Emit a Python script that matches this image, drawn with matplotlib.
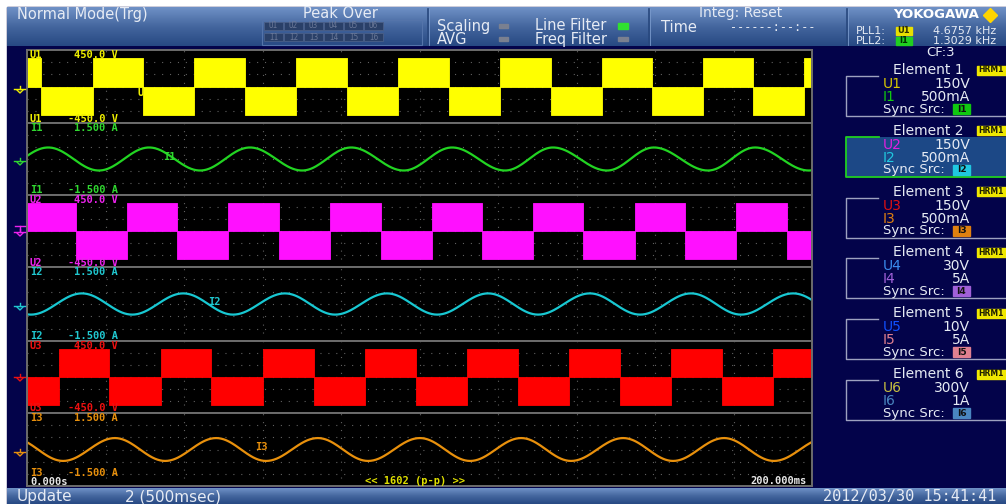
import numpy as np
import matplotlib.pyplot as plt
from matplotlib.patches import Rectangle
from matplotlib.colors import LinearSegmentedColormap

plt.rcParams['lines.scale_dashes'] = False

W, H = 1006, 504

# ---- waveform data (time in ms, window 0..200 ms) ----
t_end = 200.0

# voltage channels: times where the PWM block flips sign
u1_edges = [3.6, 16.8, 29.6, 42.6, 55.5, 68.5, 81.5, 94.5, 107.5, 120.5,
            133.5, 146.5, 159.2, 172.2, 185.0, 198.0]
u2_edges = [12.5, 25.5, 38.2, 51.2, 64.2, 77.2, 90.2, 103.2, 115.9, 128.9,
            141.7, 154.9, 167.6, 180.6, 193.6]
u3_edges = [8.2, 20.9, 34.1, 46.9, 60.1, 73.1, 86.1, 99.1, 112.1, 125.1,
            138.1, 151.1, 164.1, 177.1, 190.1]
u_first_sign = [1, 1, -1]
u_peak = [355, 350, 350]          # V
u_range = 450.0                   # V/half-screen

# current channels: peak / trough times
i1_peaks = [5.4, 31.1, 56.8, 82.6, 108.3, 134.0, 159.7, 185.5, 211.2]
i1_troughs = [-7.6, 18.3, 44.1, 70.1, 96.0, 121.8, 147.8, 173.5, 199.2]
i2_peaks = [-11.8, 14.0, 39.8, 65.7, 91.7, 117.5, 143.4, 169.2, 195.2]
i2_troughs = [1.0, 26.8, 52.5, 78.5, 104.5, 130.2, 156.2, 181.9, 207.9]
i3_peaks = [-3.6, 22.4, 48.2, 74.1, 100.1, 125.9, 151.9, 177.6, 203.6]
i3_troughs = [9.2, 35.2, 60.9, 86.9, 112.9, 138.6, 164.6, 190.3]
i_amp = [0.48, 0.43, 0.47]        # A
i_range = 1.5                     # A/half-screen

names = ['U1', 'I1', 'U2', 'I2', 'U3', 'I3']
wave_cols = ['#ffff00', '#22d422', '#ff10ff', '#18c8d2', '#ff0000', '#e8900c']
label_cols = ['#f0f000', '#30d830', '#ee22ee', '#20c8d0', '#ee1010', '#e8900c']
top_vals = ['450.0 V', '1.500 A', '450.0 V', '1.500 A', '450.0 V', '1.500 A']
bot_vals = ['-450.0 V', '-1.500 A', '-450.0 V', '-1.500 A', '-450.0 V', '-1.500 A']

elements = ['Element 1', 'Element 2', 'Element 3', 'Element 4', 'Element 5', 'Element 6']
el_u = ['U1', 'U2', 'U3', 'U4', 'U5', 'U6']
el_i = ['I1', 'I2', 'I3', 'I4', 'I5', 'I6']
el_u_rng = ['150V', '150V', '150V', '30V', '10V', '300V']
el_i_rng = ['500mA', '500mA', '500mA', '5A', '5A', '1A']
el_u_col = ['#d8c800', '#e020e0', '#e01010', '#3a8cf0', '#1050ff', '#c8c040']
el_i_col = ['#10c810', '#20c8e0', '#e08010', '#a060d8', '#e08090', '#4a86c0']


def blocks(edges, first, peak):
    bounds = [0.0] + list(edges) + [t_end]
    levels = [first * peak * (-1) ** k for k in range(len(bounds) - 1)]
    return np.array(bounds), np.array(levels + [levels[-1]])


def swing(peaks, troughs, amp):
    ext = sorted([(t, amp) for t in peaks] + [(t, -amp) for t in troughs])
    ts, vs = [], []
    for (t0, v0), (t1, v1) in zip(ext[:-1], ext[1:]):
        tt = np.linspace(t0, t1, 40)
        ts.append(tt)
        vs.append(v0 * np.cos(np.pi * (tt - t0) / (t1 - t0)))
    return np.concatenate(ts), np.concatenate(vs)


fig = plt.figure(figsize=(W / 100, H / 100), dpi=100)
bg = fig.add_axes([0, 0, 1, 1])
bg.axis('off')

navy = '#03034a'
bg.add_patch(Rectangle((0, 0), W, H, color='white', zorder=0))
bg.add_patch(Rectangle((7, 7), W - 7, H - 7, color=navy, zorder=0))
grad = np.linspace(0, 1, 64).reshape(-1, 1)
bar_cmap = LinearSegmentedColormap.from_list('bar', ['#6f91c6', '#44669e', '#274983'])
bg.imshow(grad, extent=(7, W, 46, 7), cmap=bar_cmap, aspect='auto', zorder=1)
bg.imshow(grad, extent=(7, W, 504, 488), cmap=bar_cmap, aspect='auto', zorder=1)

# header separators
for xs in [428, 649, 847]:
    bg.plot([xs, xs], [9, 45], color='#28487e', lw=1.2, zorder=2)
    bg.plot([xs + 1.5, xs + 1.5], [9, 45], color='#7a9acc', lw=0.6, zorder=2)

txt = '#e6ebf4'
hf = 10.5
bg.text(17, 14, 'Normal Mode(Trg)', color=txt, fontsize=hf, va='center', zorder=3)
bg.text(340, 13, 'Peak Over', color=txt, fontsize=hf, va='center', ha='center', zorder=3)
bg.add_patch(Rectangle((262, 20), 160, 25, fill=False, ec='#5474aa', lw=0.8, zorder=2))
for k in range(6):
    for row, pre in [(22, 'U'), (33, 'I')]:
        bg.add_patch(Rectangle((264 + 20 * k, row), 19, 8, fc='#2a4068', ec='#4a5f88',
                               lw=0.6, zorder=2))
        bg.text(273.5 + 20 * k, row + 4, f'{pre}{k + 1}', color='#6a7898', fontsize=5.5,
                ha='center', va='center', family='DejaVu Sans Mono', zorder=3)
bg.text(437, 26, 'Scaling', color=txt, fontsize=hf, va='center', zorder=3)
bg.text(437, 39.5, 'AVG', color=txt, fontsize=hf, va='center', zorder=3)
bg.add_patch(Rectangle((499, 24), 9, 4, color='#7a8090', zorder=3))
bg.add_patch(Rectangle((499, 37), 9, 4, color='#7a8090', zorder=3))
bg.text(535, 26, 'Line Filter', color=txt, fontsize=hf, va='center', zorder=3)
bg.text(535, 39.5, 'Freq Filter', color=txt, fontsize=hf, va='center', zorder=3)
bg.add_patch(Rectangle((618, 23), 10, 6, color='#30e030', zorder=3))
bg.add_patch(Rectangle((618, 37), 10, 4, color='#7a8090', zorder=3))
bg.text(699, 12.5, 'Integ: Reset', color=txt, fontsize=10, va='center', zorder=3)
bg.text(661, 27, 'Time', color=txt, fontsize=hf, va='center', zorder=3)
bg.text(730, 27.5, '------:--:--', color=txt, fontsize=8.5, va='center',
        family='DejaVu Sans Mono', zorder=3)
bg.text(893, 15, 'YOKOGAWA', color='white', fontsize=9.5, weight='bold', va='center',
        family='Liberation Sans Narrow', zorder=3)
bg.plot([990], [15], marker='D', ms=7, color='#ffd400', zorder=3)
bg.text(856, 30.5, 'PLL1:', color=txt, fontsize=8, va='center', zorder=3)
bg.text(856, 41, 'PLL2:', color=txt, fontsize=8, va='center', zorder=3)
bg.add_patch(Rectangle((896, 27), 16, 7.5, color='#e8e000', zorder=3))
bg.text(904, 30.7, 'U1', color='#303000', fontsize=6, ha='center', va='center', weight='bold', zorder=4)
bg.add_patch(Rectangle((896, 37), 16, 7.5, color='#20d020', zorder=3))
bg.text(904, 40.7, 'I1', color='#003000', fontsize=6, ha='center', va='center', weight='bold', zorder=4)
bg.text(933, 30.5, '4.6757 kHz', color=txt, fontsize=8, va='center', zorder=3)
bg.text(933, 41, '1.3029 kHz', color=txt, fontsize=8, va='center', zorder=3)
bg.text(941, 53, 'CF:3', color=txt, fontsize=9.5, va='center', ha='center', zorder=3)

# bottom bar
bg.text(17, 496.5, 'Update', color=txt, fontsize=11, va='center', zorder=3)
bg.text(125, 496.5, '2 (500msec)', color=txt, fontsize=11, va='center', zorder=3)
bg.text(996, 496.5, '2012/03/30 15:41:41', color=txt, fontsize=11, va='center', ha='right',
        family='DejaVu Sans Mono', zorder=3)

# element panel
for k in range(6):
    ty = 70 + 60.8 * k
    bg.text(928, ty, elements[k], color=txt, fontsize=10, ha='center', va='center', zorder=3)
    bg.add_patch(Rectangle((977, ty - 4.5), 32, 9, color='#f0e800', zorder=3))
    bg.text(978, ty, 'HRM1', color='#202000', fontsize=5.5, weight='bold', va='center', zorder=4)
    top, bot = ty + 6, ty + 46
    if k == 1:
        bg.add_patch(Rectangle((846, top), 170, bot - top, fc='#1c4886', ec='none', zorder=2))
        bg.plot([879, 846, 846, W], [top, top, bot, bot], color='#20d020', lw=1.3, zorder=3)
    else:
        bg.plot([878, 846, 846, W], [top, top, bot, bot], color='#9ea2c0', lw=1.0, zorder=3)
    bg.text(883, ty + 14, el_u[k], color=el_u_col[k], fontsize=10, va='center', zorder=3)
    bg.text(970, ty + 14, el_u_rng[k], color=txt, fontsize=10, va='center', ha='right', zorder=3)
    bg.text(883, ty + 27, el_i[k], color=el_i_col[k], fontsize=10, va='center', zorder=3)
    bg.text(970, ty + 27, el_i_rng[k], color=txt, fontsize=10, va='center', ha='right', zorder=3)
    bg.text(883, ty + 39, 'Sync Src:', color=txt, fontsize=9.5, va='center', zorder=3)
    bg.add_patch(Rectangle((953, ty + 34), 17, 10, color=el_i_col[k], zorder=3))
    bg.text(961.5, ty + 39, el_i[k], color='#101010', fontsize=6.5, weight='bold',
            ha='center', va='center', zorder=4)

bg.set_xlim(0, W)
bg.set_ylim(H, 0)

# ---- waveform strips ----
strips = [(50, 123), (123, 195), (195, 267), (267, 341), (341, 413), (413, 486)]
x0, x1 = 27, 812
u_edges = [u1_edges, u2_edges, u3_edges]
i_peaks = [i1_peaks, i2_peaks, i3_peaks]
i_troughs = [i1_troughs, i2_troughs, i3_troughs]

for n, (ya, yb) in enumerate(strips):
    ax = fig.add_axes([x0 / W, 1 - yb / H, (x1 - x0) / W, (yb - ya) / H])
    ax.set_facecolor('black')
    lim = u_range if n % 2 == 0 else i_range
    ax.set_xlim(0, t_end)
    ax.set_ylim(-lim, lim)
    ax.set_xticks(np.arange(20, 200, 20))
    ax.set_yticks(np.linspace(-lim, lim, 7)[1:-1])
    ax.grid(color='#606060', linestyle=(0, (0.8, 4.9)), linewidth=0.8)
    ax.set_axisbelow(True)
    ax.tick_params(length=0, labelbottom=False, labelleft=False)
    for s in ax.spines.values():
        s.set_color('#6c6c6c')
        s.set_linewidth(1.4)
    k = n // 2
    if n % 2 == 0:
        bx, lv = blocks(u_edges[k], u_first_sign[k], u_peak[k])
        ax.fill_between(bx, 0, lv, step='post', color=wave_cols[n], lw=0.6, ec=wave_cols[n])
    else:
        tt, vv = swing(i_peaks[k], i_troughs[k], i_amp[k])
        ax.plot(tt, vv, color=wave_cols[n], lw=1.6)

# ---- overlay texts ----
ov = fig.add_axes([0, 0, 1, 1])
ov.set_xlim(0, W)
ov.set_ylim(H, 0)
ov.axis('off')
mono = dict(family='DejaVu Sans Mono', weight='bold', fontsize=7.5, va='center')
bot_y = [119, 190, 263, 336, 408, 473]
for n, (ya, yb) in enumerate(strips):
    ov.text(30, ya + 5, names[n], color=label_cols[n], **mono)
    ov.text(118, ya + 5, top_vals[n], color=label_cols[n], ha='right', **mono)
    ov.text(30, bot_y[n], names[n], color=label_cols[n], **mono)
    ov.text(118, bot_y[n], bot_vals[n], color=label_cols[n], ha='right', **mono)

ov.text(138, 93, 'U', color='#f0f000', **mono)
ov.text(163, 157, 'I1', color='#30d830', **mono)
ov.text(208, 302, 'I2', color='#20c8d0', **mono)
ov.text(255, 447, 'I3', color='#e8900c', **mono)
ov.text(30, 482, '0.000s', color='#e8e8e8', **mono)
ov.text(365, 481, '<< 1602 (p-p) >>', color='#e0e000', **mono)
ov.text(807, 481, '200.000ms', color='#e8e8e8', ha='right', **mono)

# ground markers on the left strip
gnd_y = [89, 161, 232, 306, 377, 452]
for n, gy in enumerate(gnd_y):
    c = label_cols[n]
    ov.plot([14, 25], [gy, gy], color=c, lw=1.0)
    ov.plot([17, 20, 23], [gy + 1, gy + 4, gy + 1], color=c, lw=1.0)
    ov.plot([20, 20], [gy - 3, gy], color=c, lw=1.0)
ov.plot([15, 25], [226, 226], color='#ee22ee', lw=1.0)
ov.plot([20, 20], [226, 231], color='#ee22ee', lw=1.0)

fig.savefig('out.png', dpi=100)
